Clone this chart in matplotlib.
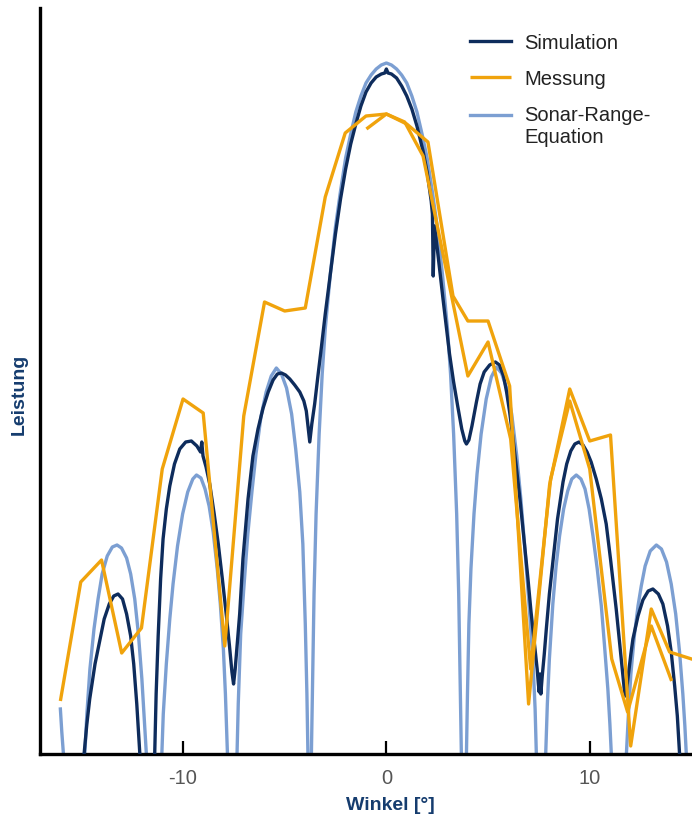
"""
Richtcharakteristik: Simulation, Messung und Sonar-Range-Equation
"""
import numpy as np
import matplotlib
matplotlib.use('Agg')
import matplotlib.pyplot as plt

plt.rcParams['font.family'] = ['Liberation Sans', 'DejaVu Sans']
plt.rcParams['axes.unicode_minus'] = False

# Sonar-Range-Equation (Winkel [°], Leistung) - Werte unter 0 liegen ausserhalb
sre_pts = np.array([
    (-16.0, 45), (-15.93, 22), (-15.85, 0), (-15.3, -80),
    (-14.8, 0), (-14.7, 40), (-14.55, 85), (-14.35, 125), (-14.15, 155), (-13.95, 180),
    (-13.7, 198), (-13.45, 207), (-13.22, 209), (-13.0, 206), (-12.75, 196), (-12.55, 180),
    (-12.35, 155), (-12.17, 120), (-12.0, 75), (-11.88, 35), (-11.78, 0), (-11.4, -80),
    (-11.02, 0), (-10.95, 40), (-10.8, 90), (-10.63, 135), (-10.47, 170), (-10.25, 208),
    (-10.0, 240), (-9.75, 262), (-9.5, 275), (-9.32, 279), (-9.1, 276), (-8.9, 265),
    (-8.7, 248), (-8.5, 222), (-8.3, 185), (-8.15, 150), (-8.0, 105), (-7.9, 60),
    (-7.8, 0), (-7.57, -80),
    (-7.33, 0), (-7.27, 50), (-7.15, 120), (-7.0, 165), (-6.8, 220), (-6.6, 262),
    (-6.4, 300), (-6.15, 338), (-5.9, 362), (-5.65, 378), (-5.4, 386), (-5.15, 380),
    (-4.9, 366), (-4.65, 340), (-4.45, 305), (-4.25, 262), (-4.1, 210), (-3.98, 130),
    (-3.9, 60), (-3.85, 0), (-3.77, -80),
    (-3.68, 0), (-3.63, 60), (-3.55, 160), (-3.45, 240), (-3.3, 320), (-3.15, 380),
    (-3.0, 425), (-2.75, 480), (-2.5, 527), (-2.25, 563), (-2.0, 596), (-1.75, 620),
    (-1.5, 642), (-1.25, 658), (-1.0, 671), (-0.75, 679), (-0.5, 685), (-0.25, 689),
    (0.0, 691), (0.25, 689), (0.5, 685), (0.75, 679), (1.0, 671), (1.25, 658),
    (1.5, 642), (1.75, 620), (2.0, 596), (2.25, 563), (2.5, 527), (2.75, 480),
    (3.0, 425), (3.15, 380), (3.3, 320), (3.45, 240), (3.55, 160), (3.63, 60),
    (3.68, 0), (3.8, -80),
    (3.93, 0), (3.98, 60), (4.05, 130), (4.15, 185), (4.3, 240), (4.45, 280),
    (4.65, 320), (4.9, 355), (5.15, 377), (5.4, 387), (5.65, 381), (5.9, 366),
    (6.15, 340), (6.4, 298), (6.6, 255), (6.8, 205), (7.0, 150), (7.19, 95),
    (7.3, 45), (7.36, 0), (7.6, -80),
    (7.82, 0), (7.9, 50), (8.0, 95), (8.17, 150), (8.33, 188), (8.5, 218),
    (8.7, 245), (8.9, 263), (9.1, 275), (9.32, 279), (9.55, 275), (9.75, 265),
    (9.95, 245), (10.14, 218), (10.35, 185), (10.55, 148), (10.7, 110), (10.87, 65),
    (10.97, 30), (11.04, 0), (11.4, -80),
    (11.78, 0), (11.88, 40), (12.0, 80), (12.18, 120), (12.35, 148), (12.51, 168),
    (12.7, 188), (12.95, 203), (13.25, 209), (13.5, 205), (13.75, 192), (13.98, 170),
    (14.2, 140), (14.39, 102), (14.55, 60), (14.65, 28), (14.72, 0), (14.9, -80),
    (15.2, -80),
])

# Simulation
sim_pts = np.array([
    (-15.2, -80), (-14.84, 0), (-14.7, 30), (-14.56, 55), (-14.3, 90), (-14.07, 113),
    (-13.85, 135), (-13.6, 150), (-13.38, 158), (-13.17, 160), (-12.95, 155), (-12.75, 140),
    (-12.55, 118), (-12.4, 90), (-12.25, 50), (-12.1, 0), (-11.75, -80),
    (-11.37, 0), (-11.3, 60), (-11.2, 118), (-11.08, 175), (-10.96, 215), (-10.8, 245),
    (-10.63, 268), (-10.4, 290), (-10.14, 305), (-9.85, 312), (-9.57, 313), (-9.3, 308),
    (-9.12, 302), (-9.06, 312), (-9.0, 298), (-8.85, 287), (-8.67, 270), (-8.45, 240),
    (-8.25, 210), (-8.05, 175), (-7.85, 138), (-7.7, 108), (-7.58, 82), (-7.5, 70),
    (-7.42, 85), (-7.3, 115), (-7.2, 140), (-7.04, 195), (-6.9, 228), (-6.79, 255),
    (-6.55, 298), (-6.3, 325), (-6.05, 346), (-5.8, 362), (-5.56, 374), (-5.35, 380),
    (-5.15, 381), (-4.95, 379), (-4.74, 375), (-4.5, 369), (-4.25, 362), (-4.05, 353),
    (-3.93, 343), (-3.85, 328), (-3.76, 312), (-3.66, 330), (-3.52, 350), (-3.36, 378),
    (-3.2, 405), (-3.0, 440), (-2.75, 480), (-2.5, 520), (-2.25, 555), (-2.0, 585),
    (-1.75, 610), (-1.5, 630), (-1.25, 648), (-1.0, 662), (-0.75, 671), (-0.5, 677),
    (-0.25, 680), (-0.08, 681), (0.0, 685), (0.08, 681), (0.25, 680), (0.5, 676),
    (0.75, 668), (1.0, 658), (1.25, 645), (1.5, 628), (1.8, 603), (2.0, 582),
    (2.2, 553), (2.26, 540), (2.3, 478), (2.36, 528), (2.5, 505), (2.78, 455),
    (3.1, 400), (3.3, 372), (3.5, 348), (3.7, 325), (3.85, 313), (3.93, 310),
    (4.05, 314), (4.2, 328), (4.42, 352), (4.6, 370), (4.8, 382), (5.07, 389),
    (5.35, 392), (5.55, 389), (5.75, 378), (5.9, 362), (6.05, 342), (6.2, 318),
    (6.35, 292), (6.54, 258), (6.75, 215), (6.95, 175), (7.1, 142), (7.28, 108),
    (7.4, 85), (7.46, 70), (7.5, 62), (7.54, 80), (7.58, 60), (7.65, 78),
    (7.75, 100), (7.85, 125), (8.0, 160), (8.17, 192), (8.4, 235), (8.67, 272),
    (8.85, 290), (9.05, 303), (9.25, 310), (9.45, 312), (9.65, 309), (9.85, 302),
    (10.05, 292), (10.3, 275), (10.55, 255), (10.79, 230), (11.0, 195), (11.28, 145),
    (11.5, 100), (11.69, 62), (11.75, 58), (11.85, 75), (12.0, 100), (12.1, 115),
    (12.35, 138), (12.59, 154), (12.85, 163), (13.08, 165), (13.35, 160), (13.57, 150),
    (13.8, 128), (13.98, 102), (14.15, 68), (14.28, 38), (14.39, 0), (14.7, -80),
    (15.2, -80),
])

# Messung: erster Durchlauf
mess1_pts = np.array([
    (-16.0, 53), (-15.0, 172), (-13.98, 194), (-12.99, 101), (-12.02, 126), (-11.0, 285),
    (-9.98, 355), (-8.99, 341), (-7.93, 108), (-7.0, 338), (-5.98, 452), (-4.99, 443),
    (-3.98, 446), (-3.0, 557), (-2.02, 621), (-1.0, 638), (0.0, 640), (1.0, 630),
    (2.04, 612), (3.27, 458), (4.0, 433), (4.99, 433), (6.05, 368), (6.98, 50),
    (8.01, 269), (9.0, 365), (9.98, 313), (11.0, 319), (11.99, 8), (13.0, 145),
    (13.9, 102), (14.98, 95), (15.5, 92),
])

# Messung: zweiter Durchlauf
mess2_pts = np.array([
    (-0.98, 625), (0.0, 640), (0.9, 632), (1.8, 598), (4.0, 378), (4.99, 412),
    (6.1, 315), (7.08, 85), (8.06, 275), (9.0, 353), (9.98, 285), (11.06, 95),
    (11.84, 42), (13.0, 128), (14.0, 73),
])

x_ticks = [-10, 0, 10]

c_sim = '#0e2c5c'
c_mess = '#f0a30c'
c_sre = '#7c9fd2'
c_label = '#153c6e'

fig = plt.figure(figsize=(6.92, 8.2), dpi=100)
ax = fig.add_axes([40 / 692, 65 / 820, 652 / 692, 746 / 820])

lw = 2.4
ax.plot(sre_pts[:, 0], sre_pts[:, 1], color=c_sre, lw=lw, zorder=2,
        label='Sonar-Range-\nEquation', solid_joinstyle='round')
ax.plot(sim_pts[:, 0], sim_pts[:, 1], color=c_sim, lw=lw, zorder=3,
        label='Simulation', solid_joinstyle='round')
ax.plot(mess1_pts[:, 0], mess1_pts[:, 1], color=c_mess, lw=lw, zorder=4,
        label='Messung', solid_capstyle='butt')
ax.plot(mess2_pts[:, 0], mess2_pts[:, 1], color=c_mess, lw=lw, zorder=4,
        solid_capstyle='butt')

ax.set_xlim(-17.0, 15.0)
ax.set_ylim(0, 746)

for side in ['top', 'right']:
    ax.spines[side].set_visible(False)
for side in ['left', 'bottom']:
    ax.spines[side].set_linewidth(2.4)
    ax.spines[side].set_color('black')

ax.set_yticks([])
ax.set_xticks(x_ticks)
ax.set_xticklabels([str(t) for t in x_ticks])
ax.tick_params(axis='x', direction='in', length=9.5, width=1.6, pad=10,
               labelsize=14.5, labelcolor='#555555')

fig.text(390 / 692, 1 - 806 / 820, 'Winkel [°]', ha='center', va='center',
         fontsize=14, fontweight='bold', color=c_label)
fig.text(19 / 692, 1 - 394 / 820, 'Leistung', ha='center', va='center',
         rotation=90, fontsize=14, fontweight='bold', color=c_label)

handles, labels = ax.get_legend_handles_labels()
order = [1, 2, 0]
leg = ax.legend([handles[i] for i in order], [labels[i] for i in order],
                loc='upper left', bbox_to_anchor=((470 - 40) / 652, (755 - 34) / 746),
                frameon=False, fontsize=14.5, handlelength=2.05, handletextpad=0.65,
                labelspacing=0.85, borderpad=0, borderaxespad=0)
for t in leg.get_texts():
    t.set_color('#222222')
    t.set_linespacing(1.2)
# Linie des zweizeiligen Eintrags auf Höhe der ersten Zeile setzen
sre_handle = leg.get_lines()[2]
sre_handle.set_ydata(np.asarray(sre_handle.get_ydata()) + 8.3)

fig.savefig('out.png', dpi=100)
